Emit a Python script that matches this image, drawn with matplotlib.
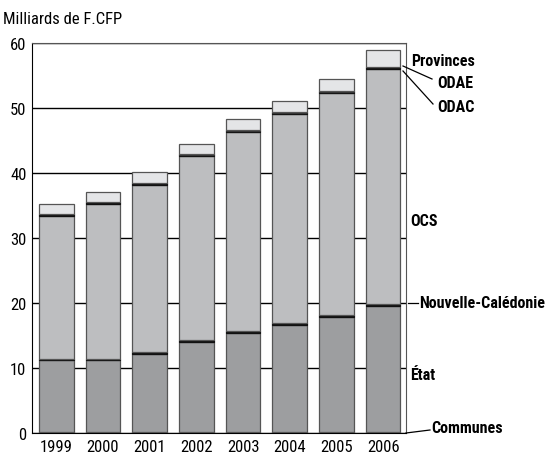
import matplotlib.pyplot as plt
import numpy as np

plt.rcParams['font.family'] = ['Roboto Condensed', 'Archivo Narrow', 'DejaVu Sans']

# --- Données (milliards de F.CFP) ---
annees = ['1999', '2000', '2001', '2002', '2003', '2004', '2005', '2006']
communes = [0.2, 0.2, 0.2, 0.2, 0.2, 0.2, 0.2, 0.2]
etat = [11.0, 11.0, 12.0, 13.8, 15.2, 16.4, 17.7, 19.3]
nouvelle_caledonie = [0.2, 0.2, 0.2, 0.3, 0.3, 0.3, 0.3, 0.3]
ocs = [22.0, 23.85, 25.75, 28.25, 30.55, 32.15, 34.05, 36.25]
odac = [0.25, 0.25, 0.25, 0.25, 0.25, 0.25, 0.25, 0.25]
odae = [0.05, 0.05, 0.05, 0.05, 0.05, 0.05, 0.05, 0.05]
provinces = [1.55, 1.55, 1.65, 1.55, 1.75, 1.75, 1.95, 2.55]

series = [
    ('Communes', communes, '#111111', '#111111'),
    ('État', etat, '#9d9ea0', '#555555'),
    ('Nouvelle-Calédonie', nouvelle_caledonie, '#111111', '#111111'),
    ('OCS', ocs, '#bdbec0', '#555555'),
    ('ODAC', odac, '#111111', '#111111'),
    ('ODAE', odae, '#333333', '#333333'),
    ('Provinces', provinces, '#e4e5e7', '#555555'),
]

fig = plt.figure(figsize=(5.47, 4.6), dpi=100)
ax = fig.add_axes([32 / 547, 26 / 460, 374 / 547, 390 / 460])

x = np.arange(len(annees))
bas = np.zeros(len(annees))
for nom, vals, couleur, bord in series:
    ax.bar(x, vals, bottom=bas, width=0.74, color=couleur,
           edgecolor=bord, linewidth=0.9, zorder=3)
    bas += np.array(vals)

ax.set_xlim(-0.52, 7.49)
ax.set_ylim(0, 60)
ax.set_yticks(range(0, 61, 10))
ax.set_xticks(x)
ax.set_xticklabels(annees)
ax.tick_params(length=0, labelsize=12, pad=4)
ax.yaxis.grid(True, color='black', linewidth=1.0, zorder=0)
ax.set_axisbelow(True)
for s in ['left', 'bottom']:
    ax.spines[s].set_color('black')
for s in ['top', 'right']:
    ax.spines[s].set_color('#555555')

fig.text(3 / 547, 1 - 20 / 460, 'Milliards de F.CFP', fontsize=12, va='center', ha='left')

# --- Étiquettes à droite ---
def px(xp, yp):
    return xp / 547, 1 - yp / 460

lab = dict(fontsize=11.5, fontweight='semibold', va='center', ha='left')
fig.text(*px(411, 62), 'Provinces', **lab)
fig.text(*px(437, 84), 'ODAE', **lab)
fig.text(*px(437, 107), 'ODAC', **lab)
fig.text(*px(410, 222), 'OCS', **lab)
fig.text(*px(419, 304), 'Nouvelle-Calédonie', **lab)
fig.text(*px(410, 376), 'État', **lab)
fig.text(*px(431, 429), 'Communes', **lab)

lignes = [
    ((403, 67), (432, 80)),
    ((403, 72), (433, 105)),
    ((408, 304), (418, 304)),
    ((406, 434), (430, 431)),
]
for (x0, y0), (x1, y1) in lignes:
    a, b = px(x0, y0)
    c, d = px(x1, y1)
    fig.add_artist(plt.Line2D([a, c], [b, d], color='black', linewidth=0.9))

fig.savefig('out.png', dpi=100)
